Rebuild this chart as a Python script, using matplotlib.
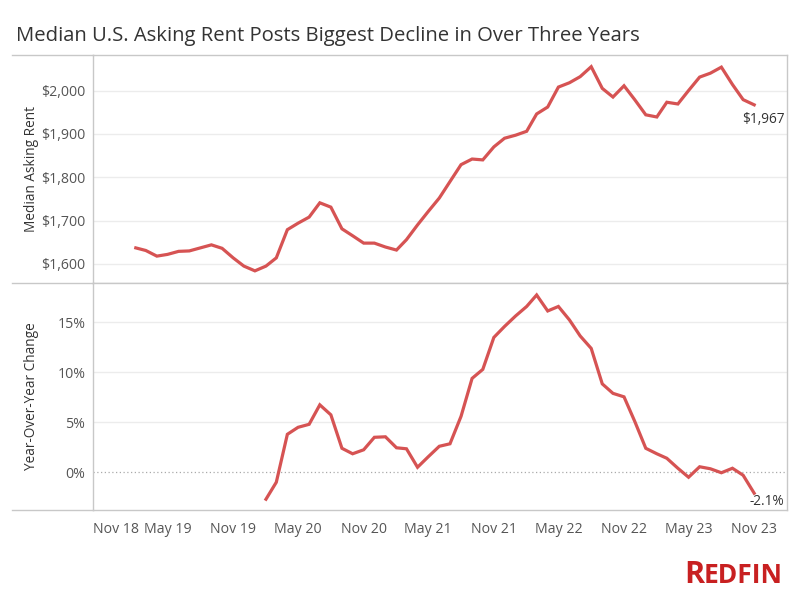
import matplotlib
matplotlib.use("Agg")
import matplotlib.pyplot as plt
import matplotlib.dates as mdates
from matplotlib.lines import Line2D
from matplotlib.transforms import ScaledTranslation
import numpy as np
import pandas as pd

# ---- data ----
months = pd.date_range("2019-02-01", "2023-11-01", freq="MS")
rent = [1637, 1631, 1618, 1622, 1629, 1630, 1637, 1644, 1636, 1614, 1595, 1584,
        1595, 1614, 1679, 1694, 1708, 1741, 1731, 1681, 1665, 1648, 1648, 1639,
        1632, 1656, 1690, 1721, 1752, 1790, 1829, 1842, 1840, 1870, 1890, 1897,
        1906, 1946, 1962, 2008, 2018, 2032, 2055, 2005, 1985, 2011, 1979, 1944,
        1939, 1973, 1969, 2000, 2031, 2040, 2054, 2014, 1979, 1967]
yoy = [None] * 12 + [
    -2.7, -1.0, 3.8, 4.5, 4.8, 6.75, 5.75, 2.4, 1.85, 2.25, 3.5, 3.55,
    2.45, 2.35, 0.5, 1.55, 2.6, 2.85, 5.6, 9.4, 10.3, 13.5, 14.6, 15.65,
    16.6, 17.75, 16.15, 16.6, 15.25, 13.65, 12.4, 8.85, 7.9, 7.55, 5.1, 2.4,
    1.85, 1.4, 0.4, -0.5, 0.55, 0.35, -0.05, 0.4, -0.3, -2.1]
tick_dates = pd.date_range("2018-11-01", "2023-11-01", freq="6MS")
tick_labels = [d.strftime("%b %y") for d in tick_dates]
rent_ticks = [1600, 1700, 1800, 1900, 2000]
yoy_ticks = [0, 5, 10, 15]

title = "Median U.S. Asking Rent Posts Biggest Decline in Over Three Years"

# ---- style ----
plt.rcParams['font.family'] = ['Open Sans', 'DejaVu Sans']
LINE = '#d65353'
BORDER = '#c8c8c8'
GRID = '#ececec'
TICK = '#555555'
W, H = 800, 600

fig = plt.figure(figsize=(8, 6), dpi=100)

def rect(l, t, r, b):
    return [l / W, 1 - b / H, (r - l) / W, (b - t) / H]

ax1 = fig.add_axes(rect(93, 55, 787, 283))
ax2 = fig.add_axes(rect(93, 283, 787, 510), sharex=ax1)

yoy_arr = np.array([np.nan if v is None else v for v in yoy])

ax1.plot(months, rent, color=LINE, lw=2.3, solid_joinstyle='miter')
ax2.plot(months, yoy_arr, color=LINE, lw=2.3, solid_joinstyle='miter')

xmin, xmax = pd.Timestamp("2018-10-04"), pd.Timestamp("2024-02-01")
ax1.set_xlim(xmin, xmax)
ax1.set_ylim(1556, 2082)
ax2.set_ylim(-3.78, 18.95)

ax1.set_yticks(rent_ticks)
ax1.set_yticklabels([f"${v:,}" for v in rent_ticks])
ax2.set_yticks(yoy_ticks)
ax2.set_yticklabels([f"{v}%" for v in yoy_ticks])
ax2.set_xticks(tick_dates)
ax2.set_xticklabels(tick_labels)

for ax in (ax1, ax2):
    for s in ax.spines.values():
        s.set_color(BORDER)
        s.set_linewidth(1.0)
    ax.tick_params(axis='both', length=0, colors=TICK, labelsize=10.2, pad=5.5)
    ax.set_axisbelow(True)

for v in rent_ticks:
    ax1.axhline(v, color=GRID, lw=1.0, zorder=0)
for v in yoy_ticks[1:]:
    ax2.axhline(v, color=GRID, lw=1.0, zorder=0)
ax2.axhline(0, color='#aaaaaa', lw=0.9, ls=(0, (1, 2)), zorder=0)

ax1.tick_params(axis='x', labelbottom=False)
ax2.tick_params(axis='x', pad=8.5)
# shift first x label right like the original
lab0 = ax2.get_xticklabels()[0]
lab0.set_transform(lab0.get_transform() + ScaledTranslation(13 / 100, 0, fig.dpi_scale_trans))

ax1.set_ylabel("Median Asking Rent", fontsize=9.8, color='#333333')
ax2.set_ylabel("Year-Over-Year Change", fontsize=9.8, color='#333333')
ax1.yaxis.set_label_coords(-0.078, 0.5)
ax2.yaxis.set_label_coords(-0.078, 0.5)

# end labels
ax1.annotate(f"${rent[-1]:,}", (months[-1], rent[-1]), xytext=(-12, -7),
             textcoords='offset pixels', ha='left', va='top', fontsize=9.8, color='#333333')
ax2.annotate(f"{yoy[-1]}%", (months[-1], yoy[-1]), xytext=(-5, -1),
             textcoords='offset pixels', ha='left', va='top', fontsize=9.8, color='#333333')

# long horizontal separators extending left
for y in (55, 283, 510):
    fig.add_artist(Line2D([12 / W, 93 / W], [1 - y / H, 1 - y / H], color=BORDER, lw=1.0))

fig.text(16 / W, 1 - 41 / H, title, fontsize=14.6, color='#333333', ha='left', va='baseline')

# Redfin logo
t2 = fig.text(783 / W, 1 - 583 / H, "EDFIN", fontsize=19, fontweight='bold', color='#c82021',
              ha='right', va='baseline')
fig.canvas.draw()
bb = t2.get_window_extent()
fig.text(bb.x0 / W, 1 - 583 / H, "R", fontsize=22, fontweight='bold', color='#c82021',
         ha='right', va='baseline')

fig.savefig("out.png", dpi=100)
